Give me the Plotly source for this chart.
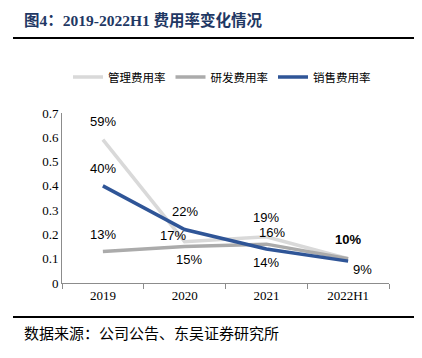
import plotly.graph_objects as go

categories = ["2019", "2020", "2021", "2022H1"]
admin_rate = [0.59, 0.17, 0.19, 0.10]
rd_rate = [0.13, 0.15, 0.16, 0.10]
sales_rate = [0.40, 0.22, 0.14, 0.09]
admin_labels = ["59%", "17%", "19%", "10%"]
rd_labels = ["13%", "15%", "16%", ""]
sales_labels = ["40%", "22%", "14%", "9%"]

OFF = 8  # page body margin
W, H = 422 - OFF, 358 - OFF
L, T = 62 - OFF, 113 - OFF
R, B = 33, 75
PW, PH = W - L - R, H - T - B


def px(x):
    return (x - OFF - L) / PW


def py(y):
    return (H - B - (y - OFF)) / PH


fig = go.Figure()
fig.add_trace(go.Scatter(x=categories, y=admin_rate, mode="lines", name="管理费用率",
                         line=dict(color="#D9D9D9", width=3.5)))
fig.add_trace(go.Scatter(x=categories, y=rd_rate, mode="lines", name="研发费用率",
                         line=dict(color="#ABABAB", width=3.5)))
fig.add_trace(go.Scatter(x=categories, y=sales_rate, mode="lines", name="销售费用率",
                         line=dict(color="#2F5597", width=3.5)))

lab_font = dict(family="Liberation Sans, Arial", size=13, color="#000000")
admin_off = [(0, 18), (-12, 6), (0, 19), (0, 19)]
rd_off = [(0, 17), (4, -13), (6, 12), (0, 0)]
sales_off = [(0, 17), (0, 18), (0, -13), (14, -8)]
for vals, labs, offs in [(admin_rate, admin_labels, admin_off),
                         (rd_rate, rd_labels, rd_off),
                         (sales_rate, sales_labels, sales_off)]:
    for i, (c, v, t, (dx, dy)) in enumerate(zip(categories, vals, labs, offs)):
        if not t:
            continue
        txt = t
        if c == "2022H1" and t == "10%":
            txt = "<b>10%</b>"
        fig.add_annotation(x=i, y=v, xref="x", yref="y", text=txt, showarrow=False,
                           xshift=dx, yshift=dy, font=dict(lab_font))

fig.add_annotation(xref="paper", yref="paper", x=px(22), y=py(20), xanchor="left", yanchor="middle",
                   text="<b>图4：2019-2022H1 费用率变化情况</b>", showarrow=False,
                   font=dict(family="Liberation Serif, Noto Sans CJK SC", size=15.5, color="#1F3864"))
fig.add_annotation(xref="paper", yref="paper", x=px(22), y=py(332), xanchor="left", yanchor="middle",
                   text="数据来源：公司公告、东吴证券研究所", showarrow=False,
                   font=dict(family="Noto Sans CJK SC", size=15, color="#000000"))
fig.add_shape(type="line", xref="paper", yref="paper", x0=px(13), x1=px(416), y0=py(38), y1=py(38),
              line=dict(color="#000000", width=2))
fig.add_shape(type="line", xref="paper", yref="paper", x0=px(13), x1=px(416), y0=py(317), y1=py(317),
              line=dict(color="#000000", width=2))

fig.update_layout(
    width=W, height=H,
    margin=dict(l=L, r=R, t=T, b=B, autoexpand=False),
    paper_bgcolor="white", plot_bgcolor="white",
    showlegend=True,
    legend=dict(orientation="h", x=px(68), y=py(77), xanchor="left", yanchor="middle",
                font=dict(family="Noto Sans CJK SC", size=11.5, color="#000000"),
                itemwidth=30, tracegroupgap=0, bgcolor="rgba(0,0,0,0)"),
    xaxis=dict(type="category", range=[-0.5, 3.5], showline=True, linecolor="#8C8C8C", linewidth=1,
               ticks="outside", ticklen=5, tickcolor="#8C8C8C", tickson="boundaries",
               showgrid=False, zeroline=False,
               tickfont=dict(family="Liberation Serif, Times New Roman", size=13, color="#000000")),
    yaxis=dict(range=[0, 0.7], dtick=0.1, showline=True, linecolor="#8C8C8C", linewidth=1,
               ticks="", showgrid=False, zeroline=False,
               tickfont=dict(family="Liberation Serif, Times New Roman", size=13, color="#000000")),
)

fig.write_html("out.html")
